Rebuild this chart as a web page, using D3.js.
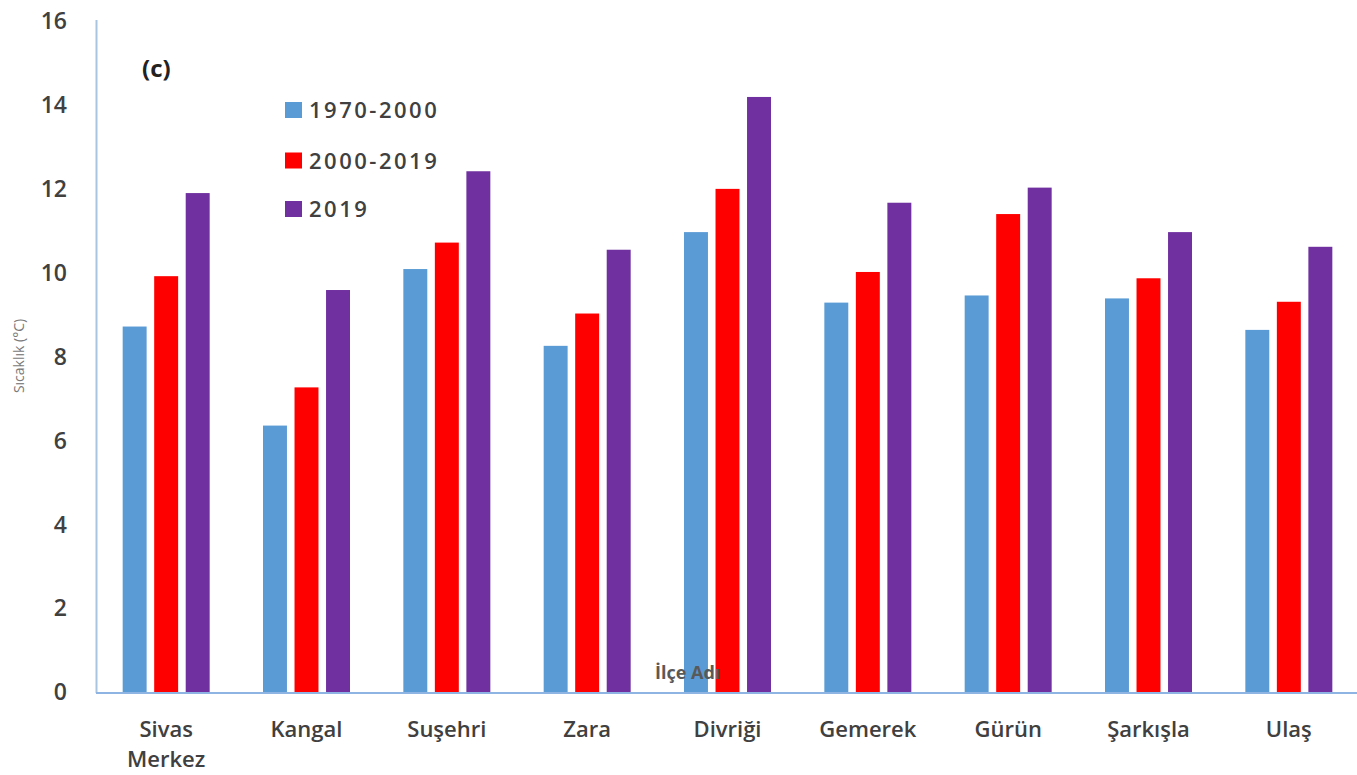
<!DOCTYPE html>
<html><head><meta charset="utf-8">
<script src="https://cdn.jsdelivr.net/npm/d3@7"></script>
<style>body{margin:0;background:#fff}svg{display:block}</style>
</head><body>
<svg id="c" width="1357" height="775"></svg>
<script>
const categories = ["Sivas Merkez","Kangal","Suşehri","Zara","Divriği","Gemerek","Gürün","Şarkışla","Ulaş"];
const seriesNames = ["1970-2000","2000-2019","2019"];
const s1970_2000 = [8.72, 6.36, 10.09, 8.26, 10.97, 9.29, 9.46, 9.39, 8.64];
const s2000_2019 = [9.92, 7.27, 10.72, 9.03, 12.00, 10.02, 11.40, 9.87, 9.31];
const s2019 = [11.90, 9.59, 12.42, 10.55, 14.19, 11.67, 12.03, 10.97, 10.62];
const yTicks = [0,2,4,6,8,10,12,14,16];
const colors = ["#5B9BD5","#FF0000","#7030A0"];
const seriesValues = [s1970_2000, s2000_2019, s2019];

const svg = d3.select("#c");
const font = "'Open Sans', 'Noto Sans', sans-serif";
const x = d3.scaleBand().domain(categories).range([96, 1359]).paddingInner(0).paddingOuter(0);
const y = d3.scaleLinear().domain([0,16]).range([692.5, 21]);
const xs = d3.scaleBand().domain(seriesNames).range([0, 87]).paddingInner(0.24).paddingOuter(0);

// bars
const g = svg.append("g");
categories.forEach((c, i) => {
  seriesNames.forEach((s, j) => {
    const v = seriesValues[j][i];
    g.append("rect")
      .attr("x", x(c) + x.bandwidth()/2 - 43.5 + xs(s))
      .attr("width", xs.bandwidth())
      .attr("y", y(v))
      .attr("height", y(0) - y(v))
      .attr("fill", colors[j]);
  });
});

// x axis title
svg.append("text").attr("x", 655).attr("y", 679)
  .attr("font-family", font).attr("font-size", 18).attr("font-weight", 700)
  .attr("fill", "#595959").text("İlçe Adı");

// axes lines
svg.append("line").attr("x1", 96.5).attr("x2", 96.5).attr("y1", 20).attr("y2", 693)
  .attr("stroke", "#A9C4E0").attr("stroke-width", 2);
svg.append("line").attr("x1", 96).attr("x2", 1357).attr("y1", 693).attr("y2", 693)
  .attr("stroke", "#8DB4E2").attr("stroke-width", 2);

// y tick labels
const yAxis = d3.axisLeft(y).tickValues(yTicks).tickSize(0).tickPadding(0);
const ya = svg.append("g").attr("transform", "translate(67,0)").call(yAxis);
ya.select(".domain").remove();
ya.selectAll("text").attr("font-family", font).attr("font-size", 23).attr("font-weight", 600)
  .attr("fill", "#404040");

// x tick labels
categories.forEach(c => {
  const parts = c.split(" ");
  const cx = x(c) + x.bandwidth()/2;
  const t = svg.append("text").attr("x", cx).attr("y", 737)
    .attr("text-anchor", "middle").attr("font-family", font).attr("font-size", 22)
    .attr("font-weight", 600).attr("fill", "#404040");
  parts.forEach((p, k) => t.append("tspan").attr("x", cx).attr("dy", k ? 30 : 0).text(p));
});

// y title
svg.append("text").attr("transform", "translate(24,356) rotate(-90)")
  .attr("text-anchor", "middle").attr("font-family", font).attr("font-size", 14)
  .attr("fill", "#7a7a7a").text("Sıcaklık (°C)");

// panel tag
svg.append("text").attr("x", 142).attr("y", 77).attr("font-family", font)
  .attr("font-size", 24).attr("font-weight", 700).attr("fill", "#222").text("(c)");

// legend
const ly = [110, 160.5, 209];
seriesNames.forEach((s, j) => {
  svg.append("rect").attr("x", 285).attr("y", ly[j] - 8).attr("width", 17).attr("height", 16).attr("fill", colors[j]);
  svg.append("text").attr("x", 309).attr("y", ly[j] + 8).attr("font-family", font)
    .attr("font-size", 22).attr("font-weight", 600).attr("letter-spacing", 2.5)
    .attr("fill", "#404040").text(s);
});
</script>
</body></html>
